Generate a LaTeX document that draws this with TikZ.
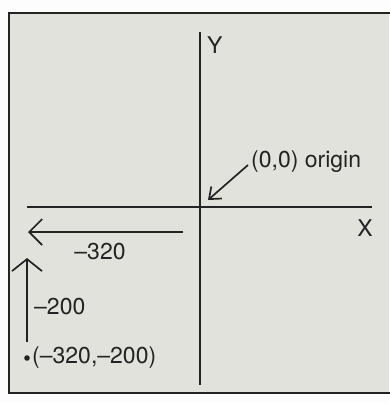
\documentclass[tikz,border=0pt]{standalone}
\usepackage{fontspec}
\setmainfont{TeX Gyre Heros}
\usetikzlibrary{arrows.meta}
\definecolor{paper}{RGB}{226,226,221}
\definecolor{ink}{RGB}{35,35,35}
\tikzset{
  lbl/.style={text=ink,font=\fontsize{23}{27}\selectfont,inner sep=0pt},
  axis/.style={draw=ink,line width=1.9pt},
  vec/.style={draw=ink,line width=1.7pt},
}
\begin{document}
\begin{tikzpicture}[x=1pt,y=-1pt]
\useasboundingbox (0,0) rectangle (389,403);
\fill[white!95!paper] (0,0) rectangle (389,403);
\fill[paper] (9,13) rectangle (389,393);
\draw[ink,line width=2.8pt] (389.5,13) -- (9,13) -- (9,393) -- (389.5,393);
% axes
\coordinate (ytop) at (200,32);
\coordinate (ybot) at (200,385);
\coordinate (xl) at (27,207);
\coordinate (xr) at (372,207);
\draw[axis] (ytop) -- (ybot);
\draw[axis] (xl) -- (xr);
\node[lbl,anchor=west] (ylab) at (207,45) {Y};
\node[lbl,anchor=center] (xlab) at (365,228) {X};
% origin
\coordinate (o) at (208,200);
\node[lbl,anchor=west] (olab) at (251,162) {(0,0) origin};
\draw[vec,-{Straight Barb[length=10pt,width=16pt,line width=1.7pt]}] (olab.west) ++(-3,3) -- (o);
% -320 arrow
\coordinate (h1) at (183,232);
\coordinate (h2) at (28,232);
\draw[vec,-{Straight Barb[length=13pt,width=26pt,line width=1.7pt]}] (h1) -- (h2);
\node[lbl] (m320) at (100,252) {–320};
% -200 arrow
\coordinate (p) at (27,358);
\coordinate (v1) at (27,342);
\coordinate (v2) at (27,258);
\draw[vec,-{Straight Barb[length=12pt,width=30pt,line width=1.7pt]}] (v1) -- (v2);
\node[lbl,anchor=west] (m200) at (34,307) {–200};
\fill[ink] (p) circle (2.8);
\node[lbl,anchor=west] (plab) at (32,358) {(–320,–200)};
\end{tikzpicture}
\end{document}
